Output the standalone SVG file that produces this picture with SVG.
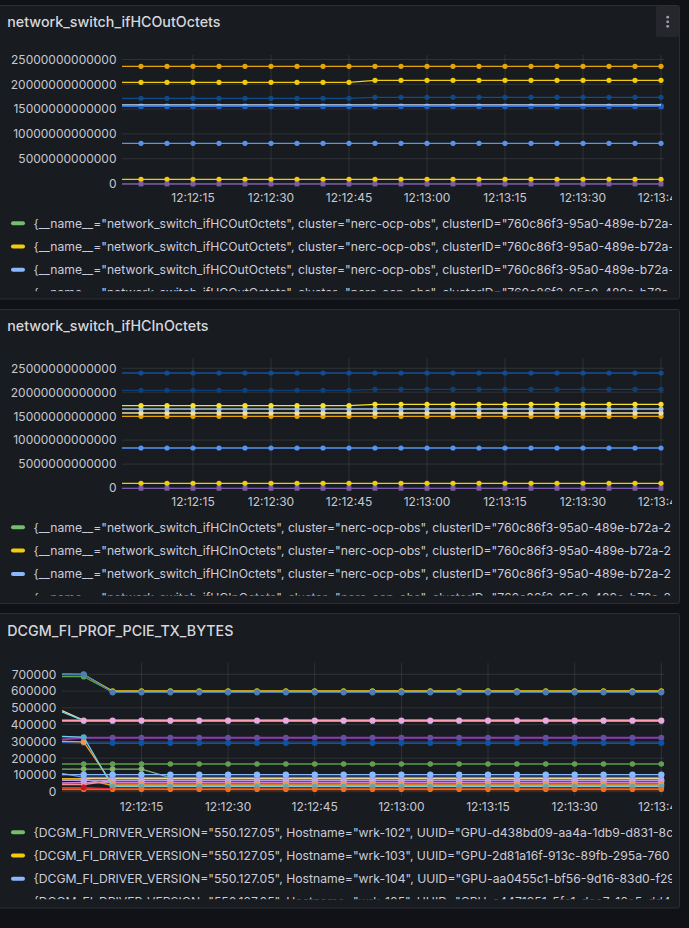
<svg xmlns="http://www.w3.org/2000/svg" width="689" height="928" viewBox="0 0 689 928">
<defs>
<style>
text{font-family:Inter,'Noto Sans','DejaVu Sans',sans-serif}
.ttl{font-size:14.25px;font-weight:500;fill:#d6d7de}
.ax{font-size:12px;fill:#c7c8d2}
.ye{text-anchor:end}
.xm{text-anchor:middle}
.lg{font-size:12.2px;fill:#ccccdc}
.gr{stroke:#ccccdc;stroke-opacity:.12;stroke-width:1;fill:none}
.pn{fill:#181b1f;stroke:#2b2e34;stroke-width:1}
.s{fill:none;stroke-width:1.3;stroke-linejoin:round}
.w2{stroke-width:2}
.sA1{stroke:#E5A50A;marker-mid:url(#mA1);marker-end:url(#mA1)}
.sY1{stroke:#F2CC0C;marker-mid:url(#mY1);marker-end:url(#mY1)}
.sY2{stroke:#FADE2A;marker-mid:url(#mY2);marker-end:url(#mY2)}
.sNv{stroke:#0F4C8C;marker-mid:url(#mNv);marker-end:url(#mNv)}
.sNv2{stroke:#0D3F76;marker-mid:url(#mNv2);marker-end:url(#mNv2)}
.sDb{stroke:#3274D9;marker-mid:url(#mDb);marker-end:url(#mDb)}
.sDb2{stroke:#13509A;marker-mid:url(#mDb2);marker-end:url(#mDb2)}
.sBl{stroke:#5794F2;marker-mid:url(#mBl);marker-end:url(#mBl)}
.sLb2{stroke:#9CC3E4;marker-mid:url(#mLb2);marker-end:url(#mLb2)}
.sCr{stroke:#F5DCA0;marker-mid:url(#mCr);marker-end:url(#mCr)}
.sPu{stroke:#7B5CA8;marker-mid:url(#mPu);marker-end:url(#mPu)}
.tGr{stroke:#56A64B;marker-mid:url(#nGr);marker-end:url(#nGr)}
.tYe{stroke:#F2CC0C;marker-mid:url(#nYe);marker-end:url(#nYe)}
.tSt{stroke:#4A7FB5;marker-mid:url(#nSt);marker-end:url(#nSt)}
.tPk{stroke:#FF9FB0;marker-mid:url(#nPk);marker-end:url(#nPk)}
.tDp{stroke:#8F3BB8;marker-mid:url(#nDp);marker-end:url(#nDp)}
.tDb{stroke:#1F60C4;marker-mid:url(#nDb);marker-end:url(#nDb)}
.tTe{stroke:#6ED0E0;marker-mid:url(#nTe);marker-end:url(#nTe)}
.tOr{stroke:#FF9830;marker-mid:url(#nOr);marker-end:url(#nOr)}
.tG2{stroke:#5A9E4B;marker-mid:url(#nG2);marker-end:url(#nG2)}
.tLg{stroke:#7EB26D;marker-mid:url(#nLg);marker-end:url(#nLg)}
.tBl{stroke:#5794F2;marker-mid:url(#nBl);marker-end:url(#nBl)}
.tLb{stroke:#8AB8FF;marker-mid:url(#nLb);marker-end:url(#nLb)}
.tAm{stroke:#E0A400;marker-mid:url(#nAm);marker-end:url(#nAm)}
.tLv{stroke:#AEA2E0;marker-mid:url(#nLv);marker-end:url(#nLv)}
.tLi{stroke:#D683CE;marker-mid:url(#nLi);marker-end:url(#nLi)}
.tSa{stroke:#F29191;marker-mid:url(#nSa);marker-end:url(#nSa)}
.tRd{stroke:#E02F44;marker-mid:url(#nRd)}
.tOg{stroke:#FF5A0A;marker-mid:url(#nOg);marker-end:url(#nOg)}
</style>
<marker id="mA1" markerUnits="userSpaceOnUse" markerWidth="10" markerHeight="10" refX="5" refY="5" overflow="visible"><circle cx="5" cy="5" r="2.6" fill="#E5A50A"/></marker>
<marker id="mY1" markerUnits="userSpaceOnUse" markerWidth="10" markerHeight="10" refX="5" refY="5" overflow="visible"><circle cx="5" cy="5" r="2.6" fill="#F2CC0C"/></marker>
<marker id="mY2" markerUnits="userSpaceOnUse" markerWidth="10" markerHeight="10" refX="5" refY="5" overflow="visible"><circle cx="5" cy="5" r="2.6" fill="#FADE2A"/></marker>
<marker id="mNv" markerUnits="userSpaceOnUse" markerWidth="10" markerHeight="10" refX="5" refY="5" overflow="visible"><circle cx="5" cy="5" r="2.6" fill="#0E4A88"/></marker>
<marker id="mNv2" markerUnits="userSpaceOnUse" markerWidth="10" markerHeight="10" refX="5" refY="5" overflow="visible"><circle cx="5" cy="5" r="2.6" fill="#0D4279"/></marker>
<marker id="mDb" markerUnits="userSpaceOnUse" markerWidth="10" markerHeight="10" refX="5" refY="5" overflow="visible"><circle cx="5" cy="5" r="3" fill="#1F60C4"/></marker>
<marker id="mDb2" markerUnits="userSpaceOnUse" markerWidth="10" markerHeight="10" refX="5" refY="5" overflow="visible"><circle cx="5" cy="5" r="2.6" fill="#0E4C94"/></marker>
<marker id="mBl" markerUnits="userSpaceOnUse" markerWidth="10" markerHeight="10" refX="5" refY="5" overflow="visible"><circle cx="5" cy="5" r="2.6" fill="#5794F2"/></marker>
<marker id="mLb2" markerUnits="userSpaceOnUse" markerWidth="10" markerHeight="10" refX="5" refY="5" overflow="visible"><circle cx="5" cy="5" r="2.6" fill="#9CC3E4"/></marker>
<marker id="mCr" markerUnits="userSpaceOnUse" markerWidth="10" markerHeight="10" refX="5" refY="5" overflow="visible"><circle cx="5" cy="5" r="2.6" fill="#F5DCA0"/></marker>
<marker id="mPu" markerUnits="userSpaceOnUse" markerWidth="10" markerHeight="10" refX="5" refY="5" overflow="visible"><rect x="2.6" y="2.6" width="4.8" height="4.8" fill="#7A5BA6"/></marker>
<marker id="nGr" markerUnits="userSpaceOnUse" markerWidth="10" markerHeight="10" refX="5" refY="5" overflow="visible"><circle cx="5" cy="5" r="2.8" fill="#56A64B"/></marker>
<marker id="nYe" markerUnits="userSpaceOnUse" markerWidth="10" markerHeight="10" refX="5" refY="5" overflow="visible"><circle cx="5" cy="5" r="2.8" fill="#F2CC0C"/></marker>
<marker id="nSt" markerUnits="userSpaceOnUse" markerWidth="10" markerHeight="10" refX="5" refY="5" overflow="visible"><circle cx="5" cy="5" r="3.1" fill="#4A7FB5"/></marker>
<marker id="nPk" markerUnits="userSpaceOnUse" markerWidth="10" markerHeight="10" refX="5" refY="5" overflow="visible"><circle cx="5" cy="5" r="3.1" fill="#E8A8E0"/></marker>
<marker id="nDp" markerUnits="userSpaceOnUse" markerWidth="10" markerHeight="10" refX="5" refY="5" overflow="visible"><circle cx="5" cy="5" r="3" fill="#6A4C9C"/></marker>
<marker id="nDb" markerUnits="userSpaceOnUse" markerWidth="10" markerHeight="10" refX="5" refY="5" overflow="visible"><circle cx="5" cy="5" r="3" fill="#0B52A8"/></marker>
<marker id="nTe" markerUnits="userSpaceOnUse" markerWidth="10" markerHeight="10" refX="5" refY="5" overflow="visible"><circle cx="5" cy="5" r="3" fill="#4FAEC4"/></marker>
<marker id="nOr" markerUnits="userSpaceOnUse" markerWidth="10" markerHeight="10" refX="5" refY="5" overflow="visible"><circle cx="5" cy="5" r="3" fill="#F9934E"/></marker>
<marker id="nG2" markerUnits="userSpaceOnUse" markerWidth="10" markerHeight="10" refX="5" refY="5" overflow="visible"><circle cx="5" cy="5" r="2.8" fill="#629E51"/></marker>
<marker id="nLg" markerUnits="userSpaceOnUse" markerWidth="10" markerHeight="10" refX="5" refY="5" overflow="visible"><circle cx="5" cy="5" r="2.8" fill="#7EB26D"/></marker>
<marker id="nBl" markerUnits="userSpaceOnUse" markerWidth="10" markerHeight="10" refX="5" refY="5" overflow="visible"><circle cx="5" cy="5" r="2.8" fill="#5794F2"/></marker>
<marker id="nLb" markerUnits="userSpaceOnUse" markerWidth="10" markerHeight="10" refX="5" refY="5" overflow="visible"><circle cx="5" cy="5" r="3.2" fill="#8AB8FF"/></marker>
<marker id="nAm" markerUnits="userSpaceOnUse" markerWidth="10" markerHeight="10" refX="5" refY="5" overflow="visible"><circle cx="5" cy="5" r="2.8" fill="#E0A400"/></marker>
<marker id="nLv" markerUnits="userSpaceOnUse" markerWidth="10" markerHeight="10" refX="5" refY="5" overflow="visible"><circle cx="5" cy="5" r="3.2" fill="#B8A8E8"/></marker>
<marker id="nLi" markerUnits="userSpaceOnUse" markerWidth="10" markerHeight="10" refX="5" refY="5" overflow="visible"><circle cx="5" cy="5" r="2.8" fill="#D9A0DC"/></marker>
<marker id="nSa" markerUnits="userSpaceOnUse" markerWidth="10" markerHeight="10" refX="5" refY="5" overflow="visible"><circle cx="5" cy="5" r="2.8" fill="#F29191"/></marker>
<marker id="nRd" markerUnits="userSpaceOnUse" markerWidth="10" markerHeight="10" refX="5" refY="5" overflow="visible"><circle cx="5" cy="5" r="3" fill="#C4162A"/></marker>
<marker id="nOg" markerUnits="userSpaceOnUse" markerWidth="10" markerHeight="10" refX="5" refY="5" overflow="visible"><circle cx="5" cy="5" r="2.8" fill="#E8702A"/></marker>
<clipPath id="c1"><rect x="0" y="5" width="672" height="286.3"/></clipPath>
<clipPath id="c2"><rect x="0" y="309" width="672" height="286.6"/></clipPath>
<clipPath id="c3"><rect x="0" y="613" width="672" height="286.3"/></clipPath>
</defs>
<rect width="689" height="928" fill="#111217"/>

<g id="panel-out">
<rect class="pn" x="-2" y="5.5" width="681.5" height="293.5" rx="2"/>
<text class="ttl" x="7.3" y="26.8">network_switch_ifHCOutOctets</text>
<g id="menu-button"><rect x="656" y="6" width="23.5" height="31" rx="2" fill="#25272d"/><circle cx="667.7" cy="17.2" r="1.4" fill="#a0a2aa"/><circle cx="667.7" cy="21.8" r="1.4" fill="#a0a2aa"/><circle cx="667.7" cy="26.3" r="1.4" fill="#a0a2aa"/></g>
<path class="gr" d="M122,59.5H664M122,84.3H664M122,109.1H664M122,133.9H664M122,158.7H664M122,183.5H664M193,55V188M271,55V188M349,55V188M427,55V188M505,55V188M583,55V188M661,55V188"/>
<g class="ax ye"><text x="116.5" y="63.8">25000000000000</text><text x="116.5" y="88.6">20000000000000</text><text x="116.5" y="113.4">15000000000000</text><text x="116.5" y="138.2">10000000000000</text><text x="116.5" y="163">5000000000000</text><text x="116.5" y="187.8">0</text></g>
<g id="series-out">
<path class="s sA1" d="M122,66.3H141h26h26h26h26h26h26h26h26h26h26h26h26h26h26h26h26h26h26h26h26"/>
<path class="s sY1" d="M122,82.3H141h26h26h26h26h26h26h26h26l26,-2h26h26h26h26h26h26h26h26h26h26h26"/>
<path class="s sNv" d="M122,98.3H141h26h26h26h26h26h26h26h26l26,-1h26h26h26h26h26h26h26h26h26h26h26"/>
<path class="s sDb" d="M122,106.3H141h26h26h26h26h26h26h26h26h26h26h26h26h26h26h26h26h26h26h26h26"/>
<path class="s" stroke="#c4dcf8" stroke-width="1.6" d="M122,104.8H661"/>
<path class="s sBl" d="M122,143.3H141h26h26h26h26h26h26h26h26h26h26h26h26h26h26h26h26h26h26h26h26"/>
<path class="s sY1" d="M122,179.3H141h26h26h26h26h26h26h26h26h26h26h26h26h26h26h26h26h26h26h26h26"/>
<path class="s sPu" d="M122,184H141h26h26h26h26h26h26h26h26h26h26h26h26h26h26h26h26h26h26h26h26"/>
</g>
<g clip-path="url(#c1)">
<g class="ax xm"><text x="193" y="202">12:12:15</text><text x="271" y="202">12:12:30</text><text x="349" y="202">12:12:45</text><text x="427" y="202">12:13:00</text><text x="505" y="202">12:13:15</text><text x="583" y="202">12:13:30</text><text x="661" y="202">12:13:45</text></g>
<rect x="11" y="221.3" width="14" height="4" rx="2" fill="#73BF69"/>
<rect x="11" y="244.5" width="14" height="4" rx="2" fill="#F2CC0C"/>
<rect x="11" y="267.7" width="14" height="4" rx="2" fill="#8AB8FF"/>
<g class="lg">
<text x="33.5" y="227.6">{__name__="network_switch_ifHCOutOctets", cluster="nerc-ocp-obs", clusterID="760c86f3-95a0-489e-b72a-2</text>
<text x="33.5" y="250.8">{__name__="network_switch_ifHCOutOctets", cluster="nerc-ocp-obs", clusterID="760c86f3-95a0-489e-b72a-2</text>
<text x="33.5" y="274">{__name__="network_switch_ifHCOutOctets", cluster="nerc-ocp-obs", clusterID="760c86f3-95a0-489e-b72a-2</text>
<text x="33.5" y="297.2">{__name__="network_switch_ifHCOutOctets", cluster="nerc-ocp-obs", clusterID="760c86f3-95a0-489e-b72a-2</text>
</g>
</g>
</g>

<g id="panel-in">
<rect class="pn" x="-2" y="309.5" width="681.5" height="294" rx="2"/>
<text class="ttl" x="7.3" y="330.8">network_switch_ifHCInOctets</text>
<path class="gr" d="M122,368.3H664M122,392.2H664M122,416.2H664M122,440.1H664M122,464.1H664M122,488H664M193,358V492M271,358V492M349,358V492M427,358V492M505,358V492M583,358V492M661,358V492"/>
<g class="ax ye"><text x="116.5" y="372.6">25000000000000</text><text x="116.5" y="396.5">20000000000000</text><text x="116.5" y="420.5">15000000000000</text><text x="116.5" y="444.4">10000000000000</text><text x="116.5" y="468.4">5000000000000</text><text x="116.5" y="492.3">0</text></g>
<g id="series-in">
<path class="s sDb2" d="M122,373H141h26h26h26h26h26h26h26h26h26h26h26h26h26h26h26h26h26h26h26h26"/>
<path class="s sNv2" d="M122,390.3H141h26h26h26h26h26h26h26h26l26,-1h26h26h26h26h26h26h26h26h26h26h26"/>
<path class="s sA1" d="M122,416.3H141h26h26h26h26h26h26h26h26h26h26h26h26h26h26h26h26h26h26h26h26"/>
<path class="s sCr" d="M122,413H141h26h26h26h26h26h26h26h26h26h26h26h26h26h26h26h26h26h26h26h26"/>
<path class="s sLb2" d="M122,409H141h26h26h26h26h26h26h26h26h26h26h26h26h26h26h26h26h26h26h26h26"/>
<path class="s sY2" d="M122,405.7H141h26h26h26h26h26h26h26h26l26,-1.4h26h26h26h26h26h26h26h26h26h26h26"/>
<path class="s sBl" d="M122,448H141h26h26h26h26h26h26h26h26h26h26h26h26h26h26h26h26h26h26h26h26"/>
<path class="s sY1" d="M122,483.3H141h26h26h26h26h26h26h26h26h26h26h26h26h26h26h26h26h26h26h26h26"/>
<path class="s sPu" d="M122,488.3H141h26h26h26h26h26h26h26h26h26h26h26h26h26h26h26h26h26h26h26h26"/>
</g>
<g clip-path="url(#c2)">
<g class="ax xm"><text x="193" y="506.3">12:12:15</text><text x="271" y="506.3">12:12:30</text><text x="349" y="506.3">12:12:45</text><text x="427" y="506.3">12:13:00</text><text x="505" y="506.3">12:13:15</text><text x="583" y="506.3">12:13:30</text><text x="661" y="506.3">12:13:45</text></g>
<rect x="11" y="525.3" width="14" height="4" rx="2" fill="#73BF69"/>
<rect x="11" y="548.6" width="14" height="4" rx="2" fill="#F2CC0C"/>
<rect x="11" y="571.9" width="14" height="4" rx="2" fill="#8AB8FF"/>
<g class="lg">
<text x="33.5" y="531.6">{__name__="network_switch_ifHCInOctets", cluster="nerc-ocp-obs", clusterID="760c86f3-95a0-489e-b72a-2</text>
<text x="33.5" y="554.9">{__name__="network_switch_ifHCInOctets", cluster="nerc-ocp-obs", clusterID="760c86f3-95a0-489e-b72a-2</text>
<text x="33.5" y="578.2">{__name__="network_switch_ifHCInOctets", cluster="nerc-ocp-obs", clusterID="760c86f3-95a0-489e-b72a-2</text>
<text x="33.5" y="601.5">{__name__="network_switch_ifHCInOctets", cluster="nerc-ocp-obs", clusterID="760c86f3-95a0-489e-b72a-2</text>
</g>
</g>
</g>

<g id="panel-pcie">
<rect class="pn" x="-2" y="613.5" width="681.5" height="294.5" rx="2"/>
<text class="ttl" x="7.3" y="635.5">DCGM_FI_PROF_PCIE_TX_BYTES</text>
<path class="gr" d="M62,674.3H664M62,691.1H664M62,707.9H664M62,724.6H664M62,741.4H664M62,758.2H664M62,774.9H664M62,791.7H664M141.5,662.7V796M228.1,662.7V796M314.7,662.7V796M401.4,662.7V796M488,662.7V796M574.7,662.7V796M661.3,662.7V796"/>
<g class="ax ye"><text x="56.3" y="678.6">700000</text><text x="56.3" y="695.4">600000</text><text x="56.3" y="712.2">500000</text><text x="56.3" y="728.9">400000</text><text x="56.3" y="745.7">300000</text><text x="56.3" y="762.5">200000</text><text x="56.3" y="779.2">100000</text><text x="56.3" y="796">0</text></g>
<g id="series-pcie">
<path class="s" stroke="#3274D9" d="M62,674L83.7,674.3l28.88,18h28.88h28.88h28.88h28.88h28.88h28.88h28.88h28.88h28.88h28.88h28.88h28.88h28.88h28.88h28.88h28.88h28.88h28.88h28.88"/>
<path class="s tGr" d="M62,676.7L83.7,676.7l28.88,15.3h28.88h28.88h28.88h28.88h28.88h28.88h28.88h28.88h28.88h28.88h28.88h28.88h28.88h28.88h28.88h28.88h28.88h28.88h28.88"/>
<path class="s tYe" d="M62,674.5L83.7,674.5l28.88,16.5h28.88h28.88h28.88h28.88h28.88h28.88h28.88h28.88h28.88h28.88h28.88h28.88h28.88h28.88h28.88h28.88h28.88h28.88h28.88"/>
<path class="s tSt" d="M62,674.3L83.7,674.3l28.88,18h28.88h28.88h28.88h28.88h28.88h28.88h28.88h28.88h28.88h28.88h28.88h28.88h28.88h28.88h28.88h28.88h28.88h28.88h28.88"/>
<path class="s" stroke="#F4D598" d="M62,710.6L83.7,720.4H661.3"/>
<path class="s" stroke="#70DBED" d="M62,712L83.7,720.6H661.3"/>
<path class="s" stroke="#CA5FC0" d="M62,720.2H661.3"/>
<path class="s w2 tPk" d="M62,720.7H83.7h28.88h28.88h28.88h28.88h28.88h28.88h28.88h28.88h28.88h28.88h28.88h28.88h28.88h28.88h28.88h28.88h28.88h28.88h28.88h28.88"/>
<path class="s w2 tDp" d="M62,739.6L83.7,737.7h28.88h28.88h28.88h28.88h28.88h28.88h28.88h28.88h28.88h28.88h28.88h28.88h28.88h28.88h28.88h28.88h28.88h28.88h28.88h28.88"/>
<path class="s tDb" d="M62,742.6L83.7,743.1h28.88h28.88h28.88h28.88h28.88h28.88h28.88h28.88h28.88h28.88h28.88h28.88h28.88h28.88h28.88h28.88h28.88h28.88h28.88h28.88"/>
<path class="s tG2" d="M62,764H83.7h28.88h28.88h28.88h28.88h28.88h28.88h28.88h28.88h28.88h28.88h28.88h28.88h28.88h28.88h28.88h28.88h28.88h28.88h28.88h28.88"/>
<path class="s tLg" d="M62,769.1H83.7h28.88h28.88l28.88,8.6h28.88h28.88h28.88h28.88h28.88h28.88h28.88h28.88h28.88h28.88h28.88h28.88h28.88h28.88h28.88h28.88"/>
<path class="s tBl" d="M62,773.3L83.7,777.4h28.88h28.88h28.88h28.88h28.88h28.88h28.88h28.88h28.88h28.88h28.88h28.88h28.88h28.88h28.88h28.88h28.88h28.88h28.88h28.88"/>
<path class="s" stroke="#F4D598" d="M62,778.6H661.3"/>
<path class="s tAm" d="M62,779L83.7,779l28.88,6.5h28.88h28.88h28.88h28.88h28.88h28.88h28.88h28.88h28.88h28.88h28.88h28.88h28.88h28.88h28.88h28.88h28.88h28.88h28.88"/>
<path class="s tLi" d="M62,783L83.7,782.5h28.88h28.88h28.88h28.88h28.88h28.88h28.88h28.88h28.88h28.88h28.88h28.88h28.88h28.88h28.88h28.88h28.88h28.88h28.88h28.88"/>
<path class="s tSa" d="M62,784.5L83.7,784.5l28.88,-4h28.88h28.88h28.88h28.88h28.88h28.88h28.88h28.88h28.88h28.88h28.88h28.88h28.88h28.88h28.88h28.88h28.88h28.88h28.88"/>
<path class="s tLv" d="M62,780.4H83.7h28.88h28.88h28.88h28.88h28.88h28.88h28.88h28.88h28.88h28.88h28.88h28.88h28.88h28.88h28.88h28.88h28.88h28.88h28.88h28.88"/>
<path class="s tOr" d="M62,741.4L83.7,741.9l28.88,42.3h28.88h28.88h28.88h28.88h28.88h28.88h28.88h28.88h28.88h28.88h28.88h28.88h28.88h28.88h28.88h28.88h28.88h28.88h28.88"/>
<path class="s tTe" d="M62,736.5L83.7,737.2l28.88,49.5h28.88h28.88h28.88h28.88h28.88h28.88h28.88h28.88h28.88h28.88h28.88h28.88h28.88h28.88h28.88h28.88h28.88h28.88h28.88"/>
<path class="s w2 tOg" d="M62,789.2H83.7h28.88h28.88h28.88h28.88h28.88h28.88h28.88h28.88h28.88h28.88h28.88h28.88h28.88h28.88h28.88h28.88h28.88h28.88h28.88h28.88"/>
<path class="s tRd" d="M62,787.6L83.7,787.6L112.6,788.8"/>
<path class="s tLb" stroke-width="1.5" d="M62,774.6H83.7h28.88h28.88h28.88h28.88h28.88h28.88h28.88h28.88h28.88h28.88h28.88h28.88h28.88h28.88h28.88h28.88h28.88h28.88h28.88h28.88"/>
</g>
<g clip-path="url(#c3)">
<g class="ax xm"><text x="141.5" y="811">12:12:15</text><text x="228.1" y="811">12:12:30</text><text x="314.7" y="811">12:12:45</text><text x="401.4" y="811">12:13:00</text><text x="488" y="811">12:13:15</text><text x="574.7" y="811">12:13:30</text><text x="661.3" y="811">12:13:45</text></g>
<rect x="11" y="830.3" width="14" height="4" rx="2" fill="#73BF69"/>
<rect x="11" y="853.5" width="14" height="4" rx="2" fill="#F2CC0C"/>
<rect x="11" y="876.7" width="14" height="4" rx="2" fill="#8AB8FF"/>
<g class="lg">
<text x="33.5" y="836.6">{DCGM_FI_DRIVER_VERSION="550.127.05", Hostname="wrk-102", UUID="GPU-d438bd09-aa4a-1db9-d831-8c</text>
<text x="33.5" y="859.8">{DCGM_FI_DRIVER_VERSION="550.127.05", Hostname="wrk-103", UUID="GPU-2d81a16f-913c-89fb-295a-760</text>
<text x="33.5" y="883">{DCGM_FI_DRIVER_VERSION="550.127.05", Hostname="wrk-104", UUID="GPU-aa0455c1-bf56-9d16-83d0-f29</text>
<text x="33.5" y="906.2">{DCGM_FI_DRIVER_VERSION="550.127.05", Hostname="wrk-105", UUID="GPU-c4471951-5fc1-dee7-16e5-dd4</text>
</g>
</g>
</g>
</svg>
